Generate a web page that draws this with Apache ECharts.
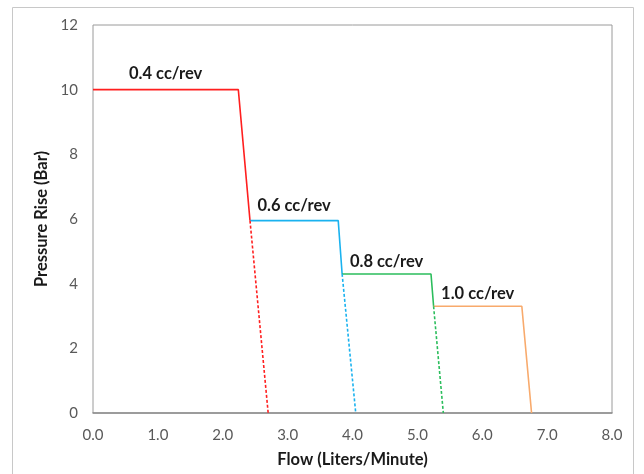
<!DOCTYPE html>
<html>
<head>
<meta charset="utf-8">
<script src="https://cdn.jsdelivr.net/npm/echarts@6/dist/echarts.min.js"></script>
<style>
html,body{margin:0;padding:0;background:#fff;}
#chart{width:644px;height:474px;}
</style>
</head>
<body>
<div id="chart"></div>
<script>
// Displacement labels
const displacementLabels = ['0.4 cc/rev', '0.6 cc/rev', '0.8 cc/rev', '1.0 cc/rev'];
// Solid segments (flow in L/min, pressure rise in bar)
const flow04 = [0, 2.24, 2.42];
const press04 = [10, 10, 5.95];
const flow06 = [2.42, 3.78, 3.84];
const press06 = [5.95, 5.95, 4.3];
const flow08 = [3.84, 5.21, 5.25];
const press08 = [4.3, 4.3, 3.3];
const flow10 = [5.25, 6.61, 6.76];
const press10 = [3.3, 3.3, 0];
// Dashed continuations
const flow04Dash = [2.42, 2.70];
const press04Dash = [5.95, 0];
const flow06Dash = [3.84, 4.05];
const press06Dash = [4.3, 0];
const flow08Dash = [5.25, 5.40];
const press08Dash = [3.3, 0];
// Axis ticks
const xTicks = [0, 1, 2, 3, 4, 5, 6, 7, 8];
const yTicks = [0, 2, 4, 6, 8, 10, 12];

const colors = ['#ff1f1f', '#1ab2ef', '#2bbd5c', '#f8aa6c'];
const solidFlows = [flow04, flow06, flow08, flow10];
const solidPress = [press04, press06, press08, press10];
const dashFlows = [flow04Dash, flow06Dash, flow08Dash];
const dashPress = [press04Dash, press06Dash, press08Dash];
const labelOffsets = [-16, -15, -12, -13];

const zip = (xs, ys) => xs.map((x, i) => [x, ys[i]]);

const series = [];
solidFlows.forEach((fx, i) => {
  const py = solidPress[i];
  series.push({
    type: 'line',
    name: displacementLabels[i],
    data: zip(fx, py),
    showSymbol: false,
    symbol: 'none',
    lineStyle: { color: colors[i], width: 1.6, type: 'solid' },
    silent: true,
    markPoint: {
      symbol: 'circle',
      symbolSize: 0,
      data: [{
        coord: [(fx[0] + fx[1]) / 2, py[0]],
        label: {
          show: true,
          formatter: displacementLabels[i],
          offset: [0, labelOffsets[i]],
          color: '#1a1a1a',
          fontFamily: 'Lato',
          fontWeight: 'bold',
          fontSize: 16.5
        }
      }]
    }
  });
});
dashFlows.forEach((fx, i) => {
  series.push({
    type: 'line',
    data: zip(fx, dashPress[i]),
    showSymbol: false,
    symbol: 'none',
    lineStyle: { color: colors[i], width: 1.6, type: [3, 2] },
    silent: true
  });
});

const chart = echarts.init(document.getElementById('chart'));
chart.setOption({
  animation: false,
  backgroundColor: '#fff',
  graphic: [{
    type: 'rect',
    shape: { x: 12.5, y: 7.5, width: 621, height: 480 },
    style: { fill: 'none', stroke: '#c8c8c8', lineWidth: 1 },
    silent: true,
    z: -10
  }],
  grid: {
    left: 93, right: 32, top: 25, bottom: 61,
    show: true, borderColor: '#9a9a9a', borderWidth: 1, backgroundColor: 'transparent'
  },
  xAxis: {
    type: 'value',
    min: xTicks[0], max: xTicks[xTicks.length - 1], interval: 1,
    name: 'Flow (Liters/Minute)',
    nameLocation: 'middle',
    nameGap: 38,
    nameTextStyle: { fontFamily: 'Lato', fontWeight: 'bold', fontSize: 16.5, color: '#1a1a1a' },
    axisLine: { show: true, lineStyle: { color: '#8c8c8c', width: 1.5 } },
    axisTick: { show: false },
    splitLine: { show: false },
    axisLabel: {
      margin: 15,
      formatter: v => v.toFixed(1),
      fontFamily: 'Lato', fontSize: 15, color: '#595959'
    }
  },
  yAxis: {
    type: 'value',
    min: yTicks[0], max: yTicks[yTicks.length - 1], interval: 2,
    name: 'Pressure Rise (Bar)',
    nameLocation: 'middle',
    nameGap: 38,
    nameTextStyle: { fontFamily: 'Lato', fontWeight: 'bold', fontSize: 16.5, color: '#1a1a1a' },
    axisLine: { show: false },
    axisTick: { show: false },
    splitLine: { show: false },
    axisLabel: {
      margin: 15,
      fontFamily: 'Lato', fontSize: 15, color: '#595959'
    }
  },
  series: series
});
</script>
</body>
</html>
